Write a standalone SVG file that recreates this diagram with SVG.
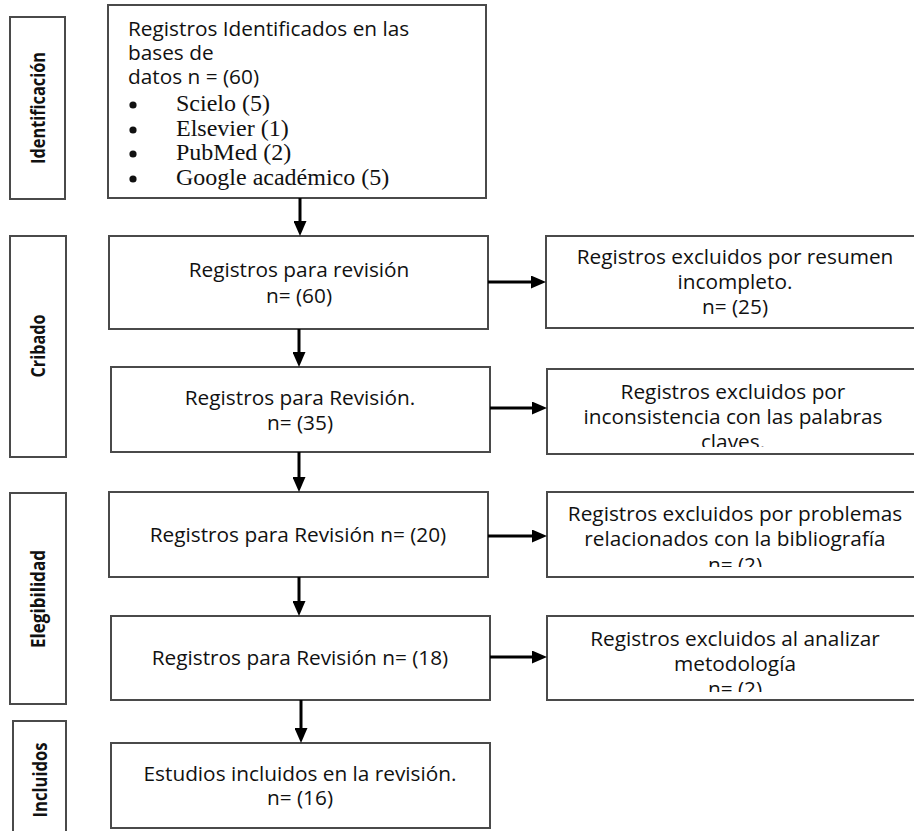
<svg xmlns="http://www.w3.org/2000/svg" width="914" height="831" viewBox="0 0 914 831">
<style>
.box{fill:#fff;stroke:#4a4a4a;stroke-width:2}
.t{font-family:"Open Sans","Liberation Sans",sans-serif;font-size:20.8px;fill:#111}
.c{text-anchor:middle}
.s{font-family:"Liberation Serif","Times New Roman",serif;font-size:24px;fill:#111}
.dot{fill:#111}
.lab{font-family:"Open Sans","Liberation Sans",sans-serif;font-size:20px;font-weight:bold;fill:#111;text-anchor:middle}
.con{stroke:#000;stroke-width:3;fill:none;marker-end:url(#ah)}
</style>
<defs>
<marker id="ah" markerUnits="userSpaceOnUse" markerWidth="15" markerHeight="13" refX="5" refY="6.5" orient="auto">
<path d="M0,0 L15,6.5 L0,13 z" fill="#000"/>
</marker>
<clipPath id="c2"><rect x="547" y="369" width="380" height="78"/></clipPath>
<clipPath id="c3"><rect x="547" y="492" width="380" height="75"/></clipPath>
<clipPath id="c4"><rect x="547" y="616" width="380" height="76"/></clipPath>
</defs>
<rect width="914" height="831" fill="#fff"/>

<g id="phase-identificacion">
<rect class="box" x="10" y="17" width="55" height="182"/>
<text class="lab" transform="translate(38,108) rotate(-90)" y="7" textLength="112" lengthAdjust="spacingAndGlyphs">Identificación</text>
</g>
<g id="phase-cribado">
<rect class="box" x="10" y="236" width="56" height="221"/>
<text class="lab" transform="translate(38,346) rotate(-90)" y="7" textLength="63" lengthAdjust="spacingAndGlyphs">Cribado</text>
</g>
<g id="phase-elegibilidad">
<rect class="box" x="10" y="493" width="56" height="211"/>
<text class="lab" transform="translate(38,599) rotate(-90)" y="7" textLength="98" lengthAdjust="spacingAndGlyphs">Elegibilidad</text>
</g>
<g id="phase-incluidos">
<rect class="box" x="13" y="721" width="53" height="125"/>
<text class="lab" transform="translate(40,780) rotate(-90)" y="7" textLength="75" lengthAdjust="spacingAndGlyphs">Incluidos</text>
</g>

<g id="n1">
<rect class="box" x="108" y="5" width="378" height="193"/>
<text class="t" x="128" y="36">Registros Identificados en las</text>
<text class="t" x="128" y="60">bases de</text>
<text class="t" x="128" y="84">datos n = (60)</text>
<circle class="dot" cx="133" cy="105" r="3.6"/>
<text class="s" x="176" y="111">Scielo (5)</text>
<circle class="dot" cx="133" cy="130" r="3.6"/>
<text class="s" x="176" y="136">Elsevier (1)</text>
<circle class="dot" cx="133" cy="154" r="3.6"/>
<text class="s" x="176" y="160">PubMed (2)</text>
<circle class="dot" cx="133" cy="179" r="3.6"/>
<text class="s" x="176" y="185">Google académico (5)</text>
</g>
<g id="n2">
<rect class="box" x="109" y="236" width="379" height="93"/>
<text class="t c" x="299" y="277">Registros para revisión</text>
<text class="t c" x="299" y="303">n= (60)</text>
</g>
<g id="n3">
<rect class="box" x="111" y="367" width="379" height="85"/>
<text class="t c" x="300" y="405">Registros para Revisión.</text>
<text class="t c" x="300" y="430">n= (35)</text>
</g>
<g id="n4">
<rect class="box" x="109" y="492" width="379" height="85"/>
<text class="t c" x="298" y="542">Registros para Revisión n= (20)</text>
</g>
<g id="n5">
<rect class="box" x="111" y="616" width="379" height="84"/>
<text class="t c" x="300" y="665">Registros para Revisión n= (18)</text>
</g>
<g id="n6">
<rect class="box" x="111" y="743" width="379" height="85"/>
<text class="t c" x="300" y="781">Estudios incluidos en la revisión.</text>
<text class="t c" x="300" y="805">n= (16)</text>
</g>
<g id="r1">
<rect class="box" x="546" y="236" width="380" height="92"/>
<text class="t c" x="735" y="264">Registros excluidos por resumen</text>
<text class="t c" x="735" y="289">incompleto.</text>
<text class="t c" x="735" y="314">n= (25)</text>
</g>
<g id="r2">
<rect class="box" x="547" y="369" width="380" height="85"/>
<g clip-path="url(#c2)">
<text class="t c" x="733" y="399">Registros excluidos por</text>
<text class="t c" x="733" y="424">inconsistencia con las palabras</text>
<text class="t c" x="733" y="449">claves.</text>
</g>
</g>
<g id="r3">
<rect class="box" x="547" y="492" width="380" height="85"/>
<g clip-path="url(#c3)">
<text class="t c" x="735" y="521">Registros excluidos por problemas</text>
<text class="t c" x="735" y="546">relacionados con la bibliografía</text>
<text class="t c" x="735" y="572">n= (2)</text>
</g>
</g>
<g id="r4">
<rect class="box" x="547" y="616" width="380" height="84"/>
<g clip-path="url(#c4)">
<text class="t c" x="735" y="646">Registros excluidos al analizar</text>
<text class="t c" x="735" y="671">metodología</text>
<text class="t c" x="735" y="696">n= (2)</text>
</g>
</g>

<g id="connectors">
<line class="con" x1="300" y1="198" x2="300" y2="226"/>
<line class="con" x1="299" y1="329" x2="299" y2="357"/>
<line class="con" x1="299" y1="452" x2="299" y2="482"/>
<line class="con" x1="299" y1="577" x2="299" y2="606"/>
<line class="con" x1="301" y1="700" x2="301" y2="733"/>
<line class="con" x1="488" y1="282" x2="536" y2="282"/>
<line class="con" x1="490" y1="408" x2="537" y2="408"/>
<line class="con" x1="488" y1="536" x2="537" y2="536"/>
<line class="con" x1="490" y1="657" x2="537" y2="657"/>
</g>
</svg>
